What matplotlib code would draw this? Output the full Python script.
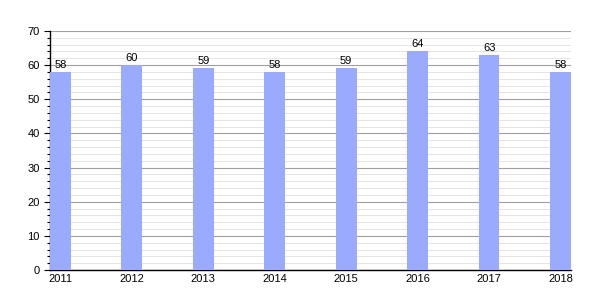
import matplotlib
matplotlib.use("Agg")
import matplotlib.pyplot as plt
from matplotlib.ticker import MultipleLocator

plt.rcParams["font.family"] = ["Liberation Sans", "DejaVu Sans"]

years = ["2011", "2012", "2013", "2014", "2015", "2016", "2017", "2018"]
values = [58, 60, 59, 58, 59, 64, 63, 58]

fig = plt.figure(figsize=(6, 3), dpi=100)
ax = fig.add_axes([0.0833, 0.1, 0.8683, 0.797])

w = 0.29
x = range(len(years))
bars = ax.bar(x, values, width=w, color="#9aabff", zorder=3)
for xi, v in zip(x, values):
    ax.text(xi, v + 0.6, str(v), ha="center", va="bottom", fontsize=8, zorder=4)

ax.set_xlim(-w / 2, len(years) - 1 + w / 2)
ax.set_ylim(0, 70)
ax.set_xticks(list(x))
ax.set_xticklabels(years, fontsize=8)
ax.yaxis.set_major_locator(MultipleLocator(10))
ax.yaxis.set_minor_locator(MultipleLocator(2))
ax.tick_params(axis="y", labelsize=8, length=4, width=0.8)
ax.tick_params(axis="y", which="minor", length=2.5, width=0.8)
ax.tick_params(axis="x", length=0, pad=3)

ax.grid(axis="y", which="major", color="#a0a0a0", linewidth=0.8, zorder=0)
ax.grid(axis="y", which="minor", color="#e0e0e0", linewidth=0.6, zorder=0)
ax.spines["top"].set_visible(False)
ax.spines["right"].set_visible(False)
ax.spines["left"].set_linewidth(1)
ax.spines["bottom"].set_linewidth(1)

fig.savefig("out.png", dpi=100)
